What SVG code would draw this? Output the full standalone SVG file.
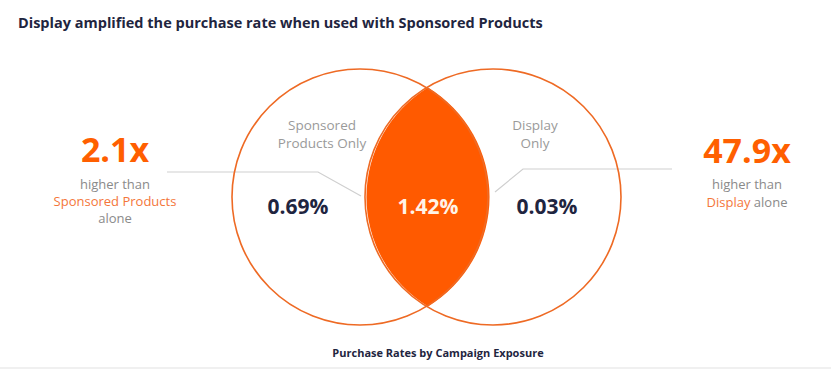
<svg xmlns="http://www.w3.org/2000/svg" width="831" height="369" viewBox="0 0 831 369">
<style>
text{font-family:"Open Sans","Liberation Sans",sans-serif}
.title{font-size:14.5px;font-weight:700;fill:#1f2540}
.circle{fill:none;stroke:#ee6a24;stroke-width:1.6}
.lbl{font-size:13.5px;fill:#9a9a9a;text-anchor:middle}
.val{font-size:21px;font-weight:700;fill:#1f2540;text-anchor:middle}
.big{font-size:34px;font-weight:700;fill:#ff5f00;text-anchor:middle}
.sub{font-size:13px;fill:#8a8a8a;text-anchor:middle}
.or{fill:#f4763a}
.conn{fill:none;stroke:#cfcfcf;stroke-width:1.2}
.cap{font-size:11px;font-weight:700;fill:#1f2540;text-anchor:middle}
</style>
<rect width="831" height="369" fill="#ffffff"/>
<rect x="0" y="367" width="831" height="2" fill="#f0f0f0"/>
<text class="title" x="18" y="28">Display amplified the purchase rate when used with Sponsored Products</text>
<g id="connectors">
<polyline class="conn" points="167,172 318,172 361,196"/>
<polyline class="conn" points="495,192 523,169 672,169"/>
</g>
<g id="lens">
<path d="M428,87.6 A128,128 0 0 1 428,306.4 A128,128 0 0 1 428,87.6 Z" fill="#ff5a00"/>
<text class="val" x="428" y="214" fill="#fff4e8" style="fill:#fff4e8">1.42%</text>
</g>
<g id="sp-only">
<circle class="circle" cx="360" cy="197" r="128"/>
<text class="lbl" x="322" y="130">Sponsored</text>
<text class="lbl" x="322" y="148">Products Only</text>
<text class="val" x="298" y="214">0.69%</text>
</g>
<g id="display-only">
<circle class="circle" cx="493" cy="197" r="128"/>
<text class="lbl" x="535" y="130">Display</text>
<text class="lbl" x="535" y="148">Only</text>
<text class="val" x="547" y="214">0.03%</text>
</g>
<g id="sp-lift">
<text class="big" x="115" y="162">2.1x</text>
<text class="sub" x="115" y="189">higher than</text>
<text class="sub or" x="115" y="206" style="fill:#f4763a">Sponsored Products</text>
<text class="sub" x="115" y="223">alone</text>
</g>
<g id="display-lift">
<text class="big" x="747" y="163">47.9x</text>
<text class="sub" x="747" y="189">higher than</text>
<text class="sub" x="747" y="207"><tspan style="fill:#f4763a">Display</tspan> alone</text>
</g>
<text class="cap" x="438" y="357">Purchase Rates by Campaign Exposure</text>
</svg>
